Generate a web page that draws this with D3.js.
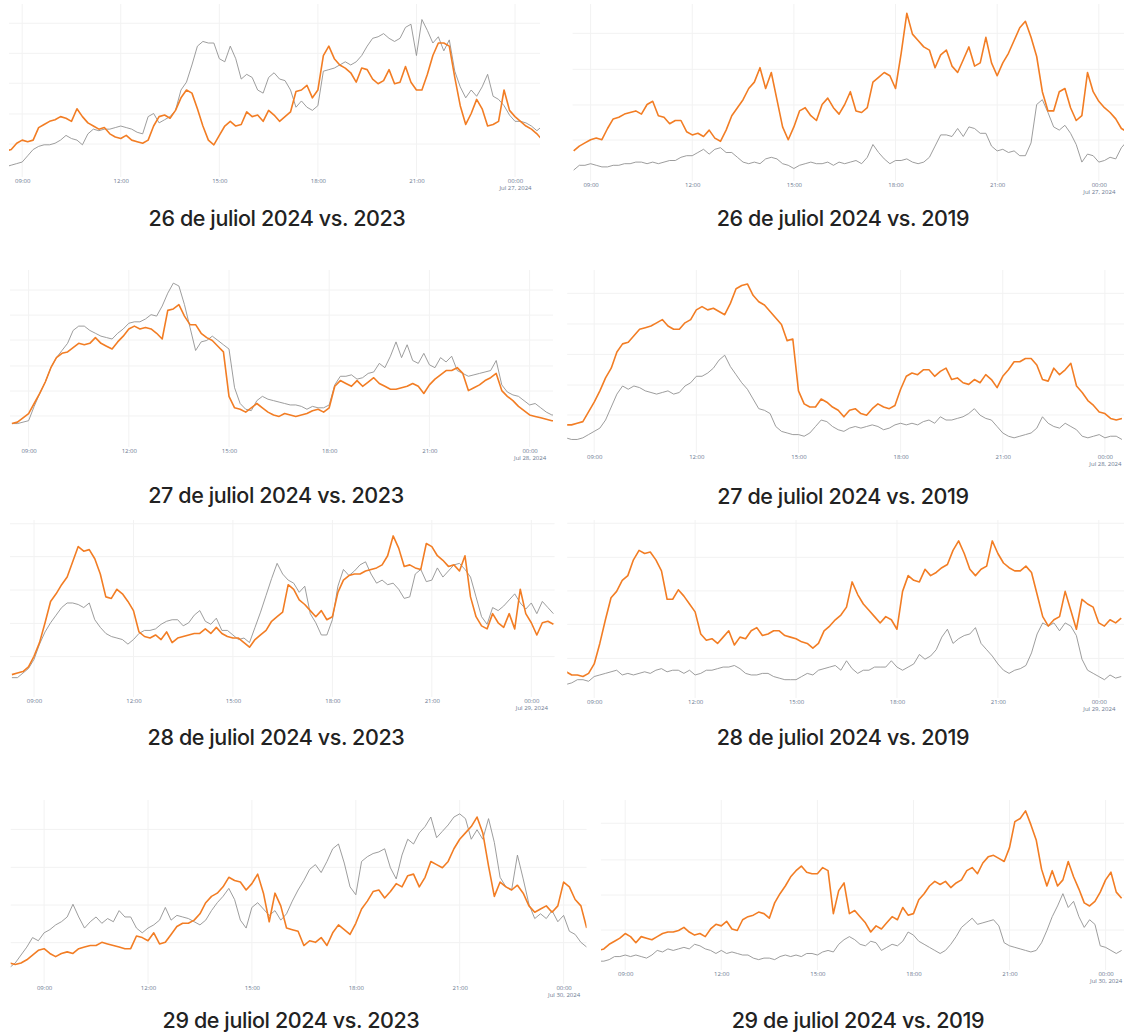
<!DOCTYPE html>
<html>
<head>
<meta charset="utf-8">
<script src="https://d3js.org/d3.v7.min.js"></script>
<style>
  body { margin: 0; background: #fff; }
  .title { font-family: Inter, "Noto Sans", sans-serif; font-weight: 500; font-size: 21.5px; fill: #222; letter-spacing: -0.4px; }
  .tick text { font-family: "Open Sans", sans-serif; font-size: 6px; fill: #6a7890; }
</style>
</head>
<body>
<svg id="main" width="1124" height="1034"></svg>
<script>
// relative traffic level (0 = panel bottom, 100 = panel top), one value every 10 minutes
const titles = ["26 de juliol 2024 vs. 2023", "26 de juliol 2024 vs. 2019",
                "27 de juliol 2024 vs. 2023", "27 de juliol 2024 vs. 2019",
                "28 de juliol 2024 vs. 2023", "28 de juliol 2024 vs. 2019",
                "29 de juliol 2024 vs. 2023", "29 de juliol 2024 vs. 2019"];
const tickHours = ["09:00", "12:00", "15:00", "18:00", "21:00", "00:00"];

// 26 July (start 08:30)
const d26_2024_vs2023 = [11,12,16,18,17,18,26,28,30,31, 33,32,30,38,33,29,27,25,26,22, 20,19,21,18,17,16,18,27,33,34,
  32,37,45,50,48,38,27,18,15,21, 27,30,27,28,36,33,34,30,37,34, 30,33,36,49,50,53,45,50,72,78, 70,66,64,61,55,64,63,57,54,56,
  63,54,55,65,55,50,50,60,72,80, 80,78,58,40,28,35,44,38,27,28, 30,50,37,33,30,27,25,22,18];
const d26_2023 = [1,2,3,4,8,12,14,15,15,16, 18,21,19,18,15,22,25,24,25,25, 26,27,26,25,23,22,33,35,29,31,
  33,37,50,55,66,78,81,80,80,70, 68,78,70,57,60,58,50,48,58,61, 57,56,50,39,43,39,37,40,62,63, 64,66,68,66,68,72,78,83,84,86,
  83,81,83,90,92,72,95,88,80,84, 75,82,62,52,45,50,46,52,60,46, 44,40,34,30,30,29,27,24,27];
const d26_2024_vs2019 = [13,16,18,20,21,20,27,33,34,36, 37,38,36,42,44,35,34,30,32,32, 25,23,24,22,26,21,19,26,35,40,
  45,52,56,65,52,62,45,28,20,28, 38,40,35,32,42,46,40,36,42,50, 38,37,40,56,59,62,60,52,74,99, 86,82,78,76,65,73,76,66,62,70,
  78,66,68,84,68,60,68,74,82,90, 94,84,72,50,38,38,50,52,40,32, 35,62,50,44,40,37,33,27,25];
const d26_2019 = [1,4,4,5,4,3,3,4,4,5, 5,6,6,5,6,5,6,7,7,9, 10,10,12,14,11,14,15,12,12,9, 6,5,6,5,8,9,8,5,4,2,
  4,5,6,5,5,6,4,6,5,6, 7,5,9,17,12,8,5,7,7,8, 6,5,6,9,16,23,23,22,27,22, 28,27,24,24,16,13,14,12,13,10,
  10,18,42,45,37,28,26,29,24,17, 6,11,10,6,7,9,8,15,19];

// 27 July (start 08:30 / 08:10)
const d27_2024_vs2023 = [1,2,5,8,15,22,30,40,47,50, 51,54,57,56,57,61,57,55,53,58, 62,67,69,67,68,67,64,60,80,81,
  84,76,70,70,64,61,59,55,51,20, 12,11,9,12,15,12,9,7,6,8, 7,6,7,8,10,11,9,12,27,31, 29,27,31,27,30,33,29,27,25,25,
  26,27,29,27,22,28,32,35,38,38, 40,36,24,26,28,31,33,36,24,20, 17,13,10,7,6,5,4,3,3];
const d27_2023 = [1,1,2,3,13,22,30,40,47,52, 57,66,69,69,66,64,62,61,60,64, 67,71,72,72,74,77,76,83,92,99,
  97,84,68,52,58,59,62,59,56,53, 26,15,11,10,17,20,18,17,16,15, 14,14,13,11,13,12,12,14,28,34, 34,35,32,33,36,37,43,40,48,58,
  47,56,45,43,50,42,40,47,44,48, 38,36,34,35,36,37,38,45,28,23, 21,20,17,14,15,12,9,7,7];
const d27_2024_vs2019 = [11,11, 12,13,19,25,32,40,46,56,61,62, 66,70,71,72,74,76,72,70,70,74, 76,82,84,82,83,81,79,86,95,97,
  98,91,87,85,81,77,73,63,64,32, 24,22,22,27,25,22,20,16,20,21, 18,17,21,24,22,21,23,33,41,43, 42,45,45,41,44,46,39,40,37,36,
  39,37,42,39,34,41,45,50,50,52, 52,48,39,38,46,42,45,49,35,31, 26,23,19,18,15,14,15];
const d27_2019 = [3,2, 2,3,5,7,9,14,22,30,35,33, 35,34,32,31,30,31,32,30,31,35, 37,41,41,43,46,51,54,47,42,37,
  33,27,21,20,18,10,7,6,5,5, 4,6,10,14,13,10,8,7,9,10, 9,10,11,10,8,9,11,12,11,12, 11,13,14,12,16,14,14,15,16,18,
  21,17,15,14,10,6,4,3,4,5, 6,9,16,12,10,9,12,10,8,4, 3,4,5,3,4,4,2];

// 28 July (start 08:20 / 08:10)
const d28_2024_vs2023 = [4, 5,6,9,16,25,38,52,57,63,68, 78,88,85,86,80,70,55,54,60,57, 52,46,32,29,28,30,27,32,25,28,
  29,30,31,31,34,31,35,31,29,28, 28,25,22,27,30,33,39,42,45,63, 60,53,50,46,42,46,40,42,58,66, 69,70,70,72,73,74,76,82,95,87,
  75,76,74,73,90,88,82,79,75,76, 72,82,55,42,36,34,44,38,35,44, 34,60,44,38,30,38,39,37];
const d28_2023 = [2, 2,5,8,14,24,32,38,43,48,51, 51,50,48,51,40,35,31,29,28,27, 24,27,31,33,33,34,37,39,40,40,
  36,38,43,46,39,37,41,33,33,30, 27,28,25,35,45,56,67,77,70,66, 64,58,62,44,38,30,30,40,62,73, 69,72,76,78,70,64,66,63,64,60,
  54,55,70,73,65,66,74,68,72,76, 77,73,68,55,42,37,48,46,49,53, 57,51,47,51,44,52,48,44];
const d28_2024_vs2019 = [9,7, 7,6,8,14,27,42,56,60,67,70, 80,86,84,85,80,73,55,55,61,57, 52,47,33,29,30,27,31,35,26,31,
  30,35,37,32,33,35,35,32,31,30, 28,27,24,27,35,38,42,45,50,66, 58,52,48,44,40,44,42,36,60,70, 67,66,74,70,72,75,77,86,92,84,
  74,70,74,76,92,84,78,75,73,73, 76,72,58,44,38,42,44,60,48,36, 55,52,50,40,38,42,40,43];
const d28_2019 = [1,2, 4,4,3,6,7,8,9,10,7,8, 7,8,9,8,10,11,9,10,10,8, 10,7,8,10,10,11,12,12,13,11,
  8,7,7,8,8,6,5,4,4,4, 6,8,7,10,11,12,13,10,16,11, 8,10,10,12,12,12,16,12,10,12, 14,20,17,19,23,31,36,27,30,32,
  33,37,27,23,19,14,10,8,10,11, 13,21,33,40,38,40,35,40,38,32, 17,10,8,6,4,7,5,6];

// 29 July (start 08:00 / 08:10)
const d29_2024_vs2023 = [4,3,4, 6,9,12,13,10,8,10,11,10,13, 14,15,15,17,16,15,14,13,13,21, 20,18,23,16,17,22,27,29,29,31,
  35,42,46,48,52,58,56,55,50,54, 60,48,30,48,40,26,25,24,15,18, 17,20,15,23,28,25,22,29,38,43, 49,50,45,49,54,52,59,60,52,58,
  68,66,64,68,76,82,86,90,96,86, 65,46,55,52,50,53,48,40,36,38, 40,36,40,55,52,44,40,26];
const d29_2023 = [1,4,9, 14,20,18,23,25,28,30,33,41,33, 26,30,33,29,32,30,37,33,33,26, 23,26,28,31,39,31,34,33,32,30,
  28,31,37,42,46,51,44,31,26,39, 42,38,34,37,31,35,43,50,56,63, 66,61,68,76,79,67,52,47,68,71, 73,74,76,64,57,72,82,79,86,90,
  96,83,87,91,96,98,95,82,88,82, 95,80,58,52,50,72,57,41,32,35, 32,37,30,34,24,22,17,14];
const d29_2024_vs2019 = [8,9, 12,14,16,19,17,13,17,16,15,17, 19,20,20,21,23,20,18,19,17,22, 25,24,27,22,21,28,30,31,33,32,
  29,39,45,50,56,60,63,59,58,58, 62,60,32,47,52,32,34,30,26,20, 24,22,26,30,28,36,31,32,41,45, 50,53,51,53,49,52,54,60,62,58,
  65,69,70,68,66,75,92,94,99,90, 80,61,50,60,50,54,66,56,48,39, 37,40,46,54,59,46,42];
const d29_2019 = [1,1, 2,4,4,5,4,5,4,3,5,8, 7,9,8,9,10,9,12,11,9,8, 6,8,6,7,6,5,5,3,2,3,
  3,2,4,5,4,5,4,6,6,5, 7,8,7,12,15,17,15,12,11,14, 13,8,10,12,11,14,20,18,14,12, 10,8,6,8,12,17,23,26,29,25,
  26,27,28,24,13,11,10,9,8,7, 8,13,21,30,37,45,36,40,30,23, 28,25,11,10,8,6,8];

// horizontal gridline levels in each panel
const grid26a = [15.5, 34.7, 54.3, 73.4, 92.6];
const grid26b = [19.8, 41.7, 64, 86.5];
const grid27a = [6.3, 23.7, 41.2, 59.3, 76.7, 94.2];
const grid27b = [17.1, 35.6, 54.5, 73.3, 92.2];
const grid28a = [15.8, 37.6, 59.5, 81.4, 103];
const grid28b = [17.5, 39.1, 60.3, 81.6, 103.2];
const grid29a = [16.8, 40.5, 64.3, 88.2];
const grid29b = [21.3, 44.1, 67, 90.9];

// panel layout
const panels = [
  {t: 0, day: 26, start: [8,30], orange: d26_2024_vs2023, gray: d26_2023, grid: grid26a,
   x0: 9, x1: 540, p09: 22.2, p00: 515, yb: 168.3, yt: 11.7, gt: 4, gb: 177, ty: 183, cx: 277, cy: 218},
  {t: 1, day: 26, start: [8,30], orange: d26_2024_vs2019, gray: d26_2019, grid: grid26b,
   x0: 572.6, x1: 1124, p09: 590.6, p00: 1098.8, yb: 171.7, yt: 11.7, gt: 4, gb: 181, ty: 187, cx: 843, cy: 218},
  {t: 2, day: 27, start: [8,30], orange: d27_2024_vs2023, gray: d27_2023, grid: grid27a,
   x0: 10, x1: 553, p09: 28.6, p00: 529.6, yb: 425, yt: 281.7, gt: 270, gb: 447, ty: 453, cx: 276, cy: 495},
  {t: 3, day: 27, start: [8,10], orange: d27_2024_vs2019, gray: d27_2019, grid: grid27b,
   x0: 567.2, x1: 1124, p09: 594.2, p00: 1104.9, yb: 442.7, yt: 280.7, gt: 270, gb: 453, ty: 459, cx: 843, cy: 496},
  {t: 4, day: 28, start: [8,20], orange: d28_2024_vs2023, gray: d28_2023, grid: grid28a,
   x0: 10, x1: 554.6, p09: 34, p00: 531.3, yb: 680.7, yt: 528.3, gt: 520, gb: 697, ty: 703, cx: 276, cy: 737},
  {t: 5, day: 28, start: [8,10], orange: d28_2024_vs2019, gray: d28_2019, grid: grid28b,
   x0: 567.2, x1: 1124, p09: 594.2, p00: 1098.8, yb: 686, yt: 528.3, gt: 520, gb: 698, ty: 704, cx: 843, cy: 737},
  {t: 6, day: 29, start: [8,0], orange: d29_2024_vs2023, gray: d29_2023, grid: grid29a,
   x0: 10.7, x1: 586.6, p09: 44.1, p00: 563.6, yb: 969.3, yt: 810.7, gt: 800, gb: 984, ty: 990, cx: 291, cy: 1020},
  {t: 7, day: 29, start: [8,10], orange: d29_2024_vs2019, gray: d29_2019, grid: grid29b,
   x0: 600.9, x1: 1124, p09: 625.2, p00: 1105.6, yb: 962.7, yt: 809.3, gt: 800, gb: 970, ty: 976, cx: 858, cy: 1020}
];

const svg = d3.select("#main");
const defs = svg.append("defs");
const dateFmt = d3.timeFormat("%b %d, %Y");

panels.forEach((p, k) => {
  const t09 = new Date(2024, 6, p.day, 9, 0);
  const t00 = new Date(2024, 6, p.day + 1, 0, 0);
  const x = d3.scaleTime().domain([t09, t00]).range([p.p09, p.p00]);
  const y = d3.scaleLinear().domain([0, 100]).range([p.yb, p.yt]);
  const t0 = new Date(2024, 6, p.day, p.start[0], p.start[1]);
  const timeAt = i => d3.timeMinute.offset(t0, i * 10);
  const tickDates = tickHours.map(h => {
    const [hh, mm] = h.split(":").map(Number);
    return new Date(2024, 6, hh === 0 ? p.day + 1 : p.day, hh, mm);
  });

  const g = svg.append("g");

  // gridlines
  g.selectAll(".hg").data(p.grid).join("line")
    .attr("x1", p.x0).attr("x2", p.x1)
    .attr("y1", d => y(d)).attr("y2", d => y(d))
    .attr("stroke", "#f2f2f2").attr("stroke-width", 1);
  g.selectAll(".vg").data(tickDates).join("line")
    .attr("x1", d => x(d)).attr("x2", d => x(d))
    .attr("y1", p.gt).attr("y2", p.gb)
    .attr("stroke", "#f2f2f2").attr("stroke-width", 1);

  // axis labels
  const axis = d3.axisBottom(x).tickValues(tickDates).tickSize(0).tickPadding(0)
    .tickFormat(d3.timeFormat("%H:%M"));
  const ax = g.append("g").attr("transform", `translate(0,${p.ty - 2})`).call(axis);
  ax.select(".domain").remove();
  ax.selectAll(".tick text").attr("dy", "0.35em");
  ax.select(".tick:last-of-type text").append("tspan")
    .attr("x", 0).attr("dy", "1.2em").text(dateFmt(t00));

  // lines
  defs.append("clipPath").attr("id", "clip" + k)
    .append("rect").attr("x", p.x0).attr("y", p.gt - 10)
    .attr("width", p.x1 - p.x0).attr("height", p.gb - p.gt + 10);
  const line = d3.line().x((d, i) => x(timeAt(i))).y(d => y(d));
  g.append("path").datum(p.gray)
    .attr("clip-path", `url(#clip${k})`)
    .attr("d", line).attr("fill", "none")
    .attr("stroke", "#929292").attr("stroke-width", 0.9).attr("stroke-linejoin", "round");
  g.append("path").datum(p.orange)
    .attr("clip-path", `url(#clip${k})`)
    .attr("d", line).attr("fill", "none")
    .attr("stroke", "#f27d24").attr("stroke-width", 1.6).attr("stroke-linejoin", "round");

  // caption
  svg.append("text").attr("class", "title")
    .attr("x", p.cx).attr("y", p.cy)
    .attr("text-anchor", "middle").attr("dominant-baseline", "central")
    .text(titles[p.t]);
});
</script>
</body>
</html>
